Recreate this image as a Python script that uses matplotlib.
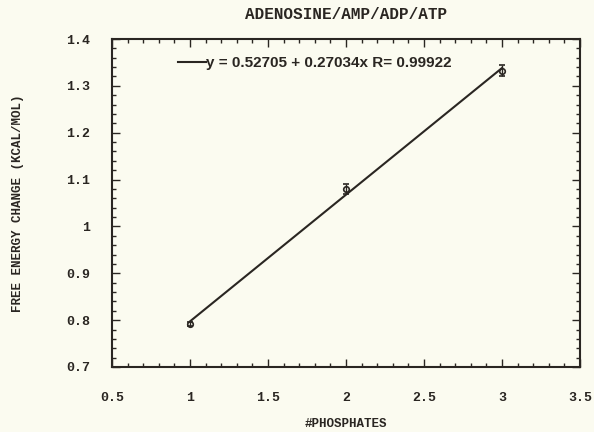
import matplotlib
matplotlib.use("Agg")
import matplotlib.pyplot as plt
from matplotlib.ticker import MultipleLocator
import numpy as np

# Measured free energy change vs number of phosphates
phosphates = [1, 2, 3]
energy = [0.791, 1.080, 1.332]
energy_err = [0.004, 0.010, 0.012]

# Linear fit reported on the chart
intercept = 0.52705
slope = 0.27034
r_value = 0.99922

title = "ADENOSINE/AMP/ADP/ATP"
xlabel = "#PHOSPHATES"
ylabel = "FREE ENERGY CHANGE (KCAL/MOL)"

bg = "#fbfbf0"
ink = "#2a2622"
mono = "Liberation Mono"

fig = plt.figure(figsize=(5.94, 4.32), dpi=100, facecolor=bg)
ax = fig.add_axes([0.1886, 0.1505, 0.7878, 0.7592], facecolor=bg)

fit_x = np.array([phosphates[0], phosphates[-1]])
fit_y = intercept + slope * fit_x
label = f"y = {intercept:.5f} + {slope:.5f}x R= {r_value:.5f}"
ax.plot(fit_x, fit_y, color=ink, lw=1.5, label=label)

ax.errorbar(phosphates, energy, yerr=energy_err, fmt="o", ms=4,
            mfc="none", mec=ink, mew=1.2, ecolor=ink, elinewidth=1.0,
            capsize=2.5, capthick=1.0)

ax.set_xlim(0.5, 3.5)
ax.set_ylim(0.7, 1.4)
ax.xaxis.set_major_locator(MultipleLocator(0.5))
ax.xaxis.set_minor_locator(MultipleLocator(0.1))
ax.yaxis.set_major_locator(MultipleLocator(0.1))
ax.yaxis.set_minor_locator(MultipleLocator(0.02))
ax.tick_params(which="both", direction="in", top=True, right=True,
               color=ink, width=1.0)
ax.tick_params(which="major", length=6)
ax.tick_params(which="minor", length=3)
ax.tick_params(axis="x", pad=18)
ax.tick_params(axis="y", pad=16)

ax.set_xticks([0.5, 1, 1.5, 2, 2.5, 3, 3.5])
ax.set_xticklabels(["0.5", "1", "1.5", "2", "2.5", "3", "3.5"])
ax.set_yticks([0.7, 0.8, 0.9, 1.0, 1.1, 1.2, 1.3, 1.4])
ax.set_yticklabels(["0.7", "0.8", "0.9", "1", "1.1", "1.2", "1.3", "1.4"])
for t in ax.get_xticklabels() + ax.get_yticklabels():
    t.set_fontfamily(mono)
    t.set_fontweight("bold")
    t.set_fontsize(9.5)
    t.set_color(ink)

for s in ax.spines.values():
    s.set_color(ink)
    s.set_linewidth(1.5)

ax.set_title(title, fontfamily=mono, fontweight="bold", fontsize=11.5,
             color=ink, pad=14.5)
ax.set_xlabel(xlabel, fontfamily=mono, fontweight="bold", fontsize=9,
              color=ink, labelpad=10)
ax.set_ylabel(ylabel, fontfamily=mono, fontweight="bold", fontsize=9,
              color=ink, labelpad=30)

leg = ax.legend(loc="upper left", bbox_to_anchor=(0.112, 0.99), frameon=False,
                handlelength=1.85, handletextpad=0.0,
                prop={"family": "Liberation Sans", "weight": "bold", "size": 11})
for t in leg.get_texts():
    t.set_color(ink)

fig.savefig("out.png", dpi=100, facecolor=bg)
